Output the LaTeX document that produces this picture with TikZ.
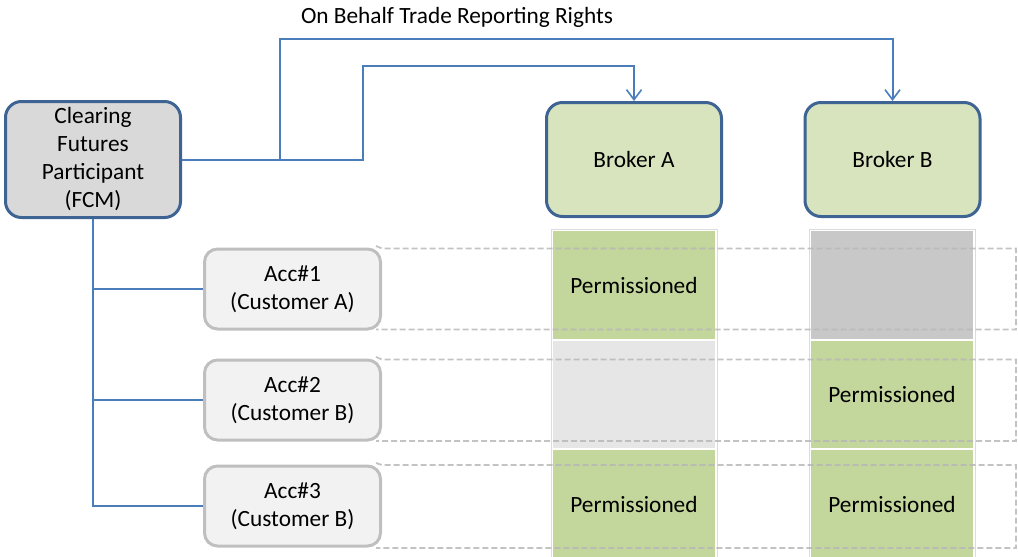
\documentclass[tikz,border=0pt]{standalone}
\usepackage{fontspec}
\setmainfont{Carlito}
\usetikzlibrary{arrows.meta,backgrounds}
\definecolor{conn}{HTML}{4A7EBB}
\definecolor{bordblue}{HTML}{3E6494}
\definecolor{fcmfill}{HTML}{D9D9D9}
\definecolor{brokfill}{HTML}{D7E4BD}
\definecolor{accfill}{HTML}{F2F2F2}
\definecolor{accbord}{HTML}{BFBFBF}
\definecolor{cellgreen}{HTML}{C3D69B}
\definecolor{celllight}{HTML}{E6E6E6}
\definecolor{celldark}{HTML}{C8C8C8}
\definecolor{frameg}{HTML}{DCDCDC}
\definecolor{dashg}{HTML}{B8B8B8}
\tikzset{
  txt/.style={font=\fontsize{23.3}{28}\selectfont, align=center, text=black},
  mainbox/.style={txt, draw=bordblue, line width=3pt, rounded corners=16pt, minimum width=175pt},
  accbox/.style={txt, draw=accbord, fill=accfill, line width=3pt, rounded corners=13pt, minimum width=176pt, minimum height=80pt},
  cellbox/.style={txt, minimum width=162pt, minimum height=108pt, inner sep=0pt},
  connline/.style={draw=conn, line width=2pt},
  arrline/.style={connline, -{Straight Barb[length=10pt,width=15pt,line width=1.6pt]}},
  colframe/.style={draw=frameg, line width=1pt},
  dashbox/.style={draw=dashg, line width=1.8pt, dash pattern=on 6pt off 3pt, opacity=0.85}
}
\begin{document}
\begin{tikzpicture}[x=1pt,y=-1pt]
\useasboundingbox (0,0) rectangle (1018,557);
% main nodes
\node[mainbox, fill=fcmfill, minimum height=116pt] (fcm) at (93,159.5) {Clearing\\Futures\\Participant\\(FCM)};
\node[mainbox, fill=brokfill, minimum height=114pt] (brA) at (634,159.5) {Broker A};
\node[mainbox, fill=brokfill, minimum height=114pt] (brB) at (892.5,159.5) {Broker B};
\node[txt] (title) at (457,17) {On Behalf Trade Reporting Rights};
\node[accbox] (acc1) at (292.5,289) {Acc\#1\\(Customer A)};
\node[accbox] (acc2) at (292.5,400) {Acc\#2\\(Customer B)};
\node[accbox] (acc3) at (292.5,506) {Acc\#3\\(Customer B)};
% connectors
\coordinate (jA) at (363,66);
\coordinate (jB) at (280,39);
\draw[arrline] (fcm.east) -| (jA) -| (brA.north);
\draw[arrline] (fcm.east) -| (jB) -| (brB.north);
\draw[connline] (fcm.south) |- (acc1.west);
\draw[connline] (fcm.south) |- (acc2.west);
\draw[connline] (fcm.south) |- (acc3.west);
% grid on background
\begin{scope}[on background layer]
  \coordinate (fA1) at (551,229); \coordinate (fA2) at (717,565);
  \coordinate (fB1) at (809,229); \coordinate (fB2) at (975,565);
  \draw[colframe] (fA1) rectangle (fA2);
  \draw[colframe] (fB1) rectangle (fB2);
  \node[cellbox, fill=cellgreen] (a1) at (634,285) {Permissioned};
  \node[cellbox, fill=celllight, minimum height=107pt] (a2) at (634,394.5) {};
  \node[cellbox, fill=cellgreen] (a3) at (634,504) {Permissioned};
  \node[cellbox, fill=celldark] (b1) at (892,285) {};
  \node[cellbox, fill=cellgreen, minimum height=107pt] (b2) at (892,394.5) {Permissioned};
  \node[cellbox, fill=cellgreen] (b3) at (892,504) {Permissioned};
  \coordinate (e1t) at (1016,248.5); \coordinate (e1b) at (1016,329.5);
  \coordinate (e2t) at (1016,359.5); \coordinate (e2b) at (1016,441);
  \coordinate (e3t) at (1016,465); \coordinate (e3b) at (1016,548);
  \draw[dashbox] ([xshift=-6pt,yshift=1.5pt]acc1.north east) -- (acc1.north east |- e1t) -- (e1t) -- (e1b) -- ([xshift=-6pt]acc1.south east |- e1b);
  \draw[dashbox] ([xshift=-6pt,yshift=1.5pt]acc2.north east) -- (acc2.north east |- e2t) -- (e2t) -- (e2b) -- ([xshift=-6pt]acc2.south east |- e2b);
  \draw[dashbox] ([xshift=-6pt,yshift=1.5pt]acc3.north east) -- (acc3.north east |- e3t) -- (e3t) -- (e3b) -- ([xshift=-6pt]acc3.south east |- e3b);
\end{scope}
\end{tikzpicture}
\end{document}
